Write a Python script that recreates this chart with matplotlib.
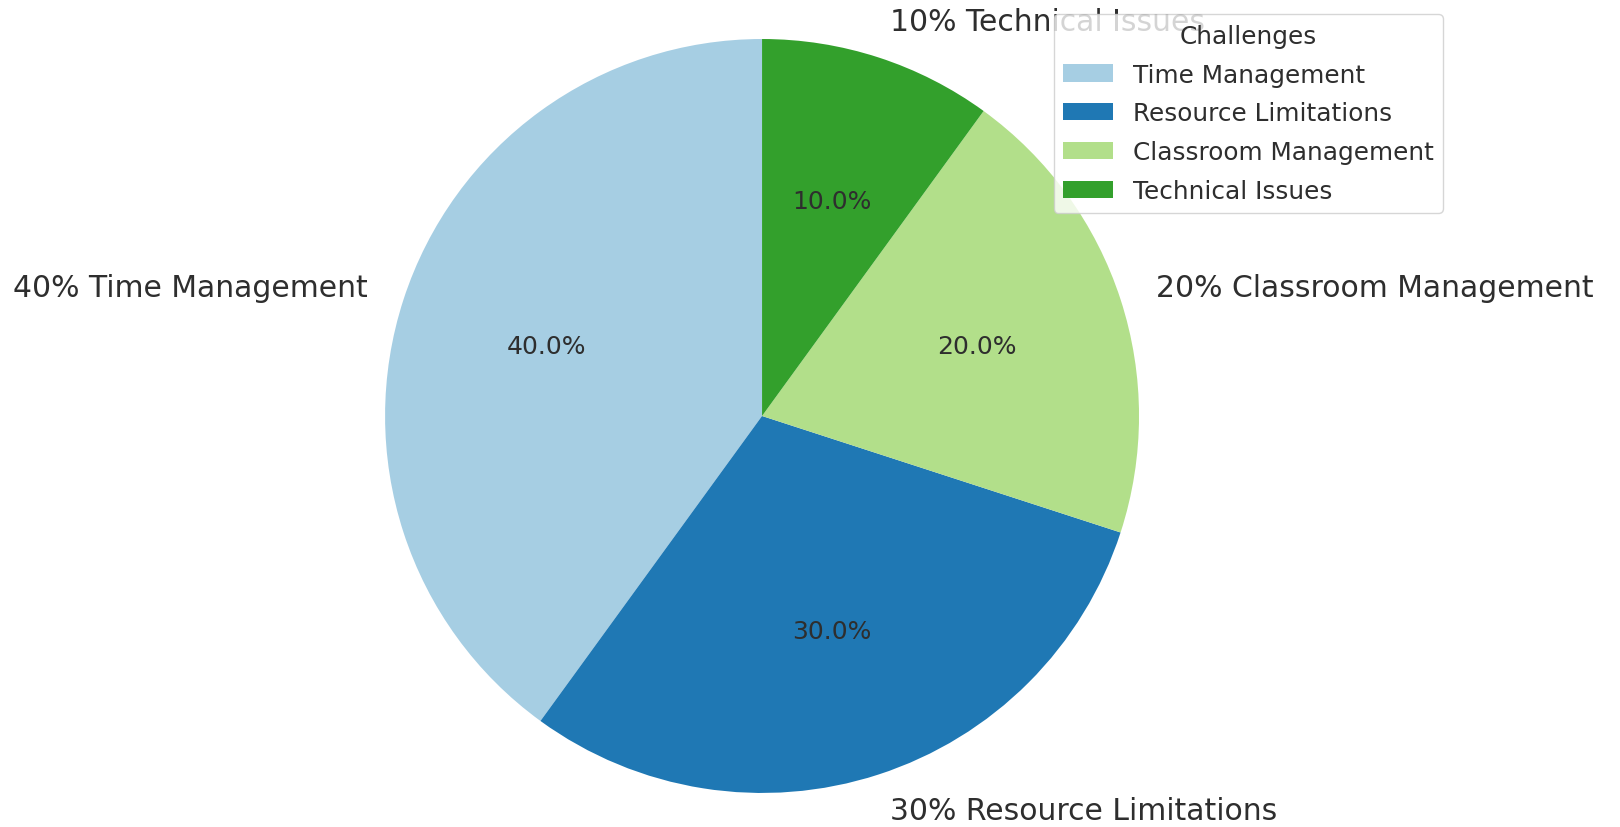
import matplotlib
matplotlib.use('Agg')
import matplotlib.pyplot as plt

# data
challenges = ['Time Management', 'Resource Limitations', 'Classroom Management', 'Technical Issues']
shares = [40, 30, 20, 10]
colors = ['#a6cee3', '#1f78b4', '#b2df8a', '#33a02c']

plt.rcParams['font.family'] = 'DejaVu Sans'
plt.rcParams['text.color'] = '0.18'

fig = plt.figure(figsize=(16.2, 8.28), dpi=100)
ax = fig.add_axes([0.2377, 0.0411, 0.4654, 0.9106])

labels = [f'{s}% {c}' for s, c in zip(shares, challenges)]
wedges, texts, autotexts = ax.pie(shares, labels=labels, colors=colors,
                                  autopct='%1.1f%%', startangle=90,
                                  textprops={'fontsize': 21.5})
for t in autotexts:
    t.set_fontsize(18)
ax.set_xlim(-1, 1)
ax.set_ylim(-1, 1)
ax.set_aspect('equal')

ax.legend(wedges, challenges, title='Challenges', fontsize=17.8, title_fontsize=17.8,
          labelspacing=0.6, loc='upper right', bbox_to_anchor=(0.891, 0.982),
          bbox_transform=fig.transFigure, borderaxespad=0)

fig.savefig('out.png', dpi=100)
